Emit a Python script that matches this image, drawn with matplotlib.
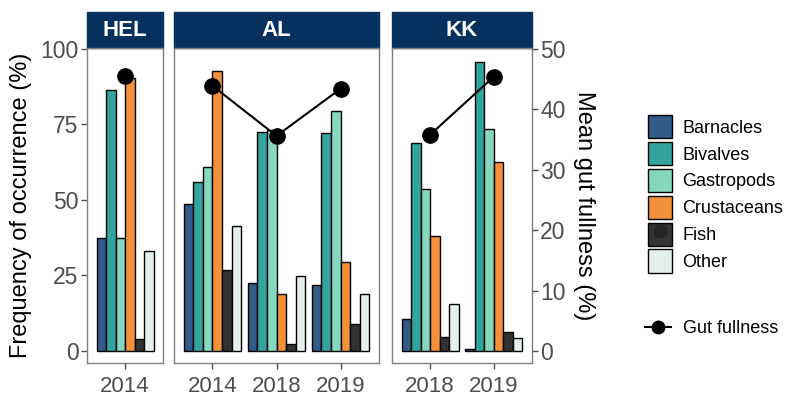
import numpy as np
import matplotlib
matplotlib.use("Agg")
import matplotlib.pyplot as plt
from matplotlib.patches import Patch, Rectangle
from matplotlib.lines import Line2D
from matplotlib.legend_handler import HandlerTuple

plt.rcParams['font.family'] = ['Liberation Sans', 'DejaVu Sans']

# ─── Dados: uma entrada por (local, ano) ─────────────────────────────────────
sites = ['HEL', 'AL', 'KK']
site_of = ['HEL', 'AL', 'AL', 'AL', 'KK', 'KK']
year_of = ['2014', '2014', '2018', '2019', '2018', '2019']

prey = ['Barnacles', 'Bivalves', 'Gastropods', 'Crustaceans', 'Fish', 'Other']
barnacles   = [37.5, 48.7, 22.6, 21.9, 10.6, 0.8]
bivalves    = [86.4, 56.0, 72.6, 72.1, 69.0, 95.5]
gastropods  = [37.5, 61.0, 73.2, 79.5, 53.5, 73.4]
crustaceans = [90.5, 92.7, 18.9, 29.4, 38.1, 62.4]
fish        = [3.9, 26.8, 2.3, 8.8, 4.5, 6.3]
other       = [33.2, 41.4, 24.9, 18.9, 15.5, 4.4]

gut_fullness = [45.5, 43.9, 35.6, 43.4, 35.8, 45.4]

cores = ['#315C8A', '#33A39E', '#86D8BD', '#F2913A', '#333333', '#E4F0EE']
strip_cor = '#06305E'
cinza = '#4D4D4D'

series = [barnacles, bivalves, gastropods, crustaceans, fish, other]

# ─── Layout dos painéis (largura proporcional ao nº de anos) ─────────────────
W, H = 791, 398
fig = plt.figure(figsize=(W / 100, H / 100), dpi=100)
bottom, top = 363, 48
paineis = {'HEL': (87, 163), 'AL': (174, 379), 'KK': (392, 532)}

bw = 0.15
offs = (np.arange(6) - 2.5) * bw

for s in sites:
    x0, x1 = paineis[s]
    ax = fig.add_axes([x0 / W, 1 - bottom / H, (x1 - x0) / W, (bottom - top) / H])
    idx = [i for i, site in enumerate(site_of) if site == s]
    anos = [year_of[i] for i in idx]
    pos = np.arange(len(idx))

    for k, vals in enumerate(series):
        ax.bar(pos + offs[k], [vals[i] for i in idx], width=bw, color=cores[k],
               edgecolor='black', linewidth=1.0, zorder=2)

    ax.set_xlim(-0.6, len(idx) - 0.4)
    ax.set_ylim(-4, 100.3)
    ax.set_xticks(pos)
    ax.set_xticklabels(anos)
    ax.tick_params(axis='x', colors=cinza, labelsize=16, length=4, width=1, pad=5)
    for sp in ax.spines.values():
        sp.set_color('#7F7F7F')
        sp.set_linewidth(1.0)

    if s == 'HEL':
        ax.set_yticks([0, 25, 50, 75, 100])
        ax.tick_params(axis='y', colors=cinza, labelsize=16.5, length=4, width=1, pad=2)
        ax.set_ylabel('Frequency of occurrence (%)', fontsize=17, labelpad=6)
    else:
        ax.set_yticks([])

    # eixo secundário: plenitude média do estômago
    ax2 = ax.twinx()
    ax2.set_ylim(-2, 50.15)
    ax2.plot(pos, [gut_fullness[i] for i in idx], color='black', linewidth=1.5,
             marker='o', markersize=11, zorder=3)
    for sp in ax2.spines.values():
        sp.set_visible(False)
    if s == 'KK':
        ax2.set_yticks([0, 10, 20, 30, 40, 50])
        ax2.tick_params(axis='y', colors=cinza, labelsize=16.5, length=4, width=1, pad=2)
        ax2.set_ylabel('Mean gut fullness (%)', fontsize=17, rotation=270, labelpad=21)
    else:
        ax2.set_yticks([])

    # faixa do título do painel
    strip_h = 36 / (bottom - top)
    ax.add_patch(Rectangle((0, 1), 1, strip_h, transform=ax.transAxes,
                           facecolor=strip_cor, edgecolor=strip_cor, clip_on=False))
    ax.text(0.5, 1 + strip_h / 2, s, transform=ax.transAxes, ha='center', va='center',
            color='white', fontsize=16, fontweight='bold')

# ─── Legendas ────────────────────────────────────────────────────────────────
handles = []
for nome, c in zip(prey, cores):
    p = Patch(facecolor=c, edgecolor='black', linewidth=1.0)
    if nome == 'Fish':
        dot = Line2D([], [], linestyle='none', marker='o', markersize=9,
                     color='#222222', alpha=0.8)
        handles.append((p, dot))
    else:
        handles.append(p)

fig.legend(handles, prey, loc='upper left', bbox_to_anchor=(632 / W, 1 - 99 / H),
           frameon=False, fontsize=13, handlelength=1.3, handleheight=1.6,
           labelspacing=0.2, handletextpad=0.6,
           handler_map={tuple: HandlerTuple(ndivide=1)})

gut_h = Line2D([], [], color='black', linewidth=1.5, marker='o', markersize=9)
fig.legend([gut_h], ['Gut fullness'], loc='upper left',
           bbox_to_anchor=(629 / W, 1 - 304 / H), frameon=False, fontsize=13,
           handlelength=1.4, handletextpad=0.7)

fig.savefig('out.png', dpi=100)
